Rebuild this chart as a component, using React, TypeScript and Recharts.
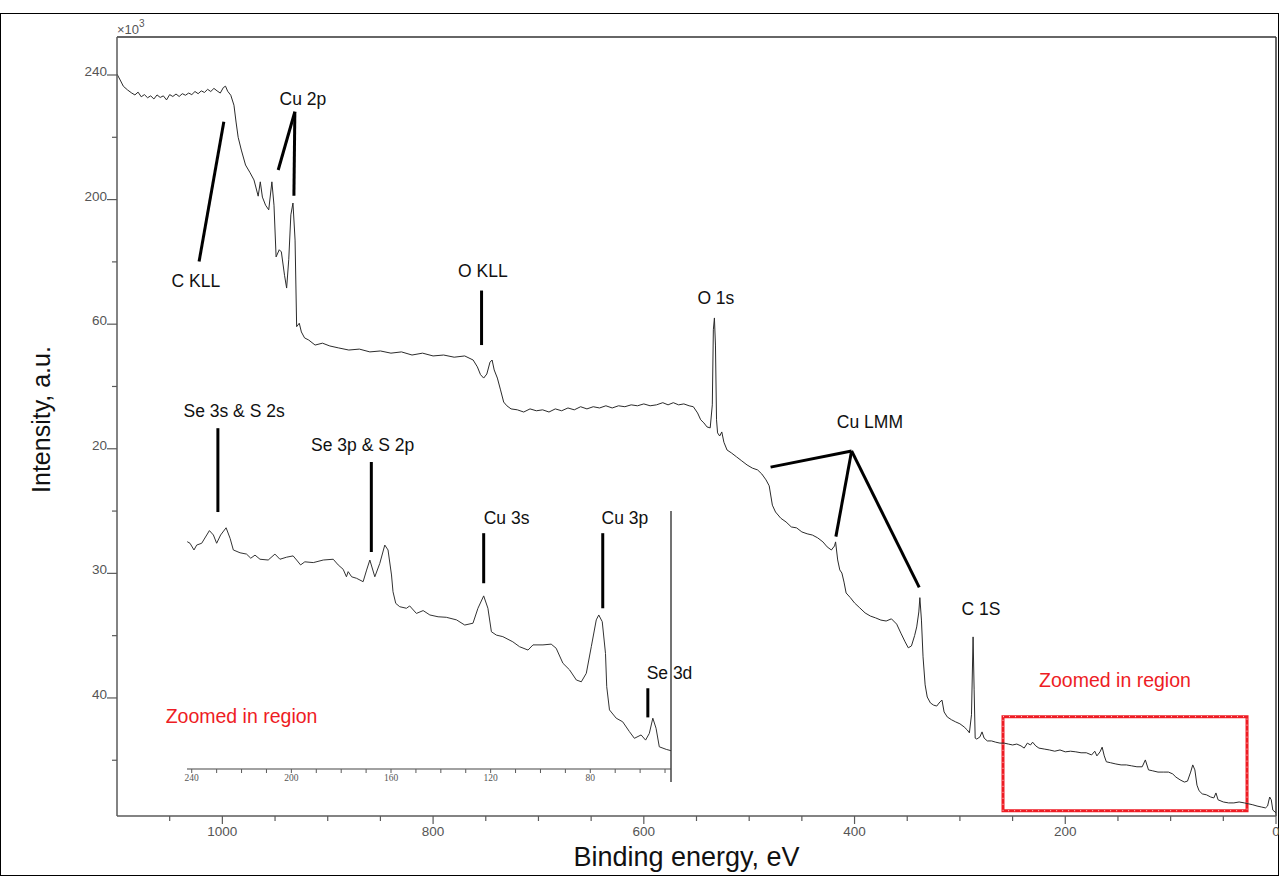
import React from 'react';
import {
  LineChart, Line, XAxis, YAxis, ReferenceLine, ReferenceDot, ReferenceArea, Label,
} from 'recharts';

// XPS survey: [binding energy (eV), intensity (x10^3 counts)]
const surveySpectrum: [number, number][] = [
  [1100, 240.3], [1097, 238.4], [1094, 236.4], [1090, 235.2], [1086, 234.2], [1083, 233.6],
  [1080, 234.5], [1077, 233.0], [1074, 233.7], [1071, 232.7], [1068, 233.3], [1065, 232.3],
  [1062, 233.6], [1059, 232.8], [1056, 233.3], [1053, 232.0], [1050, 233.7], [1047, 233.1],
  [1044, 233.9], [1041, 233.1], [1038, 234.0], [1035, 233.5], [1032, 234.2], [1029, 233.7],
  [1026, 234.7], [1023, 234.0], [1020, 234.9], [1017, 234.4], [1014, 235.4], [1011, 234.7],
  [1008, 235.7], [1005, 234.9], [1002, 234.2], [999, 236.0], [997, 236.4], [995, 234.8],
  [992, 233.5], [989, 230.3], [987, 224.9], [985, 220.0], [982, 215.9], [978, 211.1],
  [974, 208.8], [970, 206.3], [966, 201.1], [964, 205.7], [962, 200.8], [959, 198.2],
  [956, 196.7], [953, 205.7], [951, 198.2], [949, 181.6], [946, 183.9], [944, 183.2],
  [941, 175.7], [939, 171.6], [937, 180.7], [935, 195.1], [933, 198.9], [931, 187.0],
  [929.5, 159.2], [927, 160.3], [925, 157.5], [922, 155.6], [918, 154.9], [912, 153.3],
  [905, 153.9], [898, 153.0], [890, 152.4], [880, 151.7], [870, 152.0], [860, 151.1],
  [850, 151.4], [840, 150.7], [830, 151.1], [820, 150.1], [810, 150.7], [800, 149.8],
  [790, 150.1], [780, 149.4], [770, 149.8], [762, 148.5], [758, 146.3], [755, 143.8],
  [752, 142.7], [749, 144.0], [746, 147.8], [744, 148.5], [742, 145.3], [739, 142.7],
  [736, 138.9], [733, 135.0], [730, 133.8], [726, 132.8], [720, 132.5], [714, 131.8],
  [708, 132.8], [702, 132.2], [696, 132.5], [690, 131.8], [684, 132.8], [678, 132.2],
  [672, 133.1], [666, 132.5], [660, 133.5], [654, 132.8], [648, 133.5], [642, 133.1],
  [636, 133.8], [630, 133.1], [624, 133.8], [618, 133.5], [612, 134.1], [606, 133.8],
  [600, 134.4], [594, 133.8], [588, 134.1], [582, 134.8], [577, 134.1], [572, 134.8],
  [567, 134.1], [562, 134.4], [557, 133.8], [553, 133.5], [549, 131.5], [546, 129.3],
  [543, 128.3], [540, 127.0], [537, 126.7], [535, 134.1], [534, 158.2], [533, 162.0],
  [532, 153.3], [531, 129.3], [530, 125.1], [528, 124.1], [526, 125.4], [524, 122.1],
  [521, 119.6], [517, 118.7], [512, 117.4], [507, 116.1], [502, 114.8], [497, 113.8],
  [492, 113.2], [488, 111.9], [484, 110.0], [481, 108.1], [478, 101.9], [475, 99.7],
  [470, 97.7], [465, 96.5], [460, 94.9], [455, 94.6], [450, 93.3], [445, 92.7],
  [440, 92.3], [435, 91.4], [430, 90.1], [426, 88.5], [422, 87.5], [419, 88.8],
  [418, 90.1], [416, 84.3], [414, 81.1], [412, 80.1], [410, 77.2], [408, 73.7],
  [404, 72.2], [400, 70.5], [395, 68.9], [390, 67.3], [385, 66.3], [380, 65.7],
  [375, 65.0], [370, 64.7], [365, 65.4], [360, 63.7], [356, 60.8], [352, 58.0],
  [349, 56.1], [346, 56.7], [343, 60.0], [341, 62.8], [339, 67.6], [338, 72.2],
  [336.5, 65.0], [335, 53.2], [333, 44.2], [331, 40.3], [328, 38.4], [325, 37.7],
  [322, 37.4], [319, 38.7], [317, 39.3], [315, 35.5], [312, 33.9], [308, 33.0],
  [304, 32.3], [300, 31.7], [296, 30.7], [293, 29.7], [291, 28.8], [289, 34.6],
  [287.5, 59.6], [286.5, 42.6], [285.5, 27.1], [284, 26.8], [281, 27.5], [279, 29.1],
  [277, 27.1], [274, 26.2], [270, 26.2], [266, 25.8], [262, 25.5], [258, 25.5],
  [254, 25.2], [250, 24.9], [246, 25.2], [242, 24.6], [239, 23.9], [236, 25.5],
  [233, 24.9], [231, 25.8], [228, 24.6], [225, 23.9], [220, 23.6], [215, 23.3],
  [210, 22.9], [205, 23.3], [200, 22.7], [195, 22.9], [190, 22.7], [185, 22.4],
  [180, 22.4], [175, 21.7], [172, 22.9], [170, 21.4], [167, 22.7], [165, 24.2],
  [163, 21.4], [161, 19.5], [157, 19.2], [152, 18.8], [147, 18.5], [142, 18.5],
  [137, 18.2], [132, 17.9], [127, 17.9], [124, 20.1], [121, 16.9], [117, 16.6],
  [112, 16.2], [107, 16.2], [102, 16.2], [98, 15.6], [95, 14.6], [91, 13.7],
  [87, 13.0], [84, 13.3], [81, 16.2], [79, 18.5], [77, 16.9], [75, 12.0],
  [73, 10.2], [70, 9.2], [66, 8.9], [62, 8.2], [59, 7.9], [57, 9.5],
  [55, 7.3], [50, 6.6], [45, 6.3], [40, 6.3], [35, 6.6], [30, 6.3],
  [26, 6.0], [22, 5.7], [18, 5.3], [14, 5.0], [10, 4.7], [8, 5.3],
  [6, 8.2], [4.5, 7.3], [3, 4.0], [0, 3.1],
];

// expanded window 240-48 eV, arbitrary intensity units
const insetSpectrum: [number, number][] = [
  [241.8, 88.1], [240.7, 87.5], [239.1, 84.9], [238, 86.8], [236, 87.5], [232.9, 92.4],
  [231.3, 90.7], [230, 87.5], [228.4, 90.7], [226.2, 93.5], [224.6, 89.4], [223.3, 84.9],
  [220.6, 83.8], [218, 83.3], [216.3, 81.7], [214.6, 82.9], [212.6, 81.3], [209.3, 81],
  [206.6, 83.3], [204.6, 81.3], [201.9, 82.1], [199.3, 82.6], [197.9, 81], [196.3, 79.1],
  [194.6, 80.3], [191.2, 80], [187.2, 81], [183.2, 81.3], [181.2, 79.1], [179.2, 77.4],
  [177.9, 74.5], [177.2, 76.5], [175.8, 74.5], [173.8, 73.9], [171.2, 72.6], [169.8, 77.1],
  [168.5, 81], [166.5, 74.5], [164.5, 79.7], [162.5, 86.8], [161.2, 84.9], [159.8, 75.2],
  [159.2, 68.7], [158.1, 64.2], [156.5, 62.9], [153.8, 62.3], [152.5, 63.2], [149.8, 60.3],
  [147.1, 61.4], [144.4, 59.7], [141.1, 59], [137.8, 58.8], [133.7, 57.8], [130.4, 55.8],
  [127.1, 56.5], [125.1, 62.3], [122.8, 67.1], [121.1, 62.3], [119.7, 53.2], [117.7, 51.9],
  [115.1, 51.3], [111.1, 49.3], [108.4, 47.4], [105, 46.1], [103, 48.1], [99, 48.1],
  [95.7, 48.4], [93.7, 46.8], [91, 41], [88.3, 38.4], [85.6, 34.5], [83.6, 33.8],
  [81.6, 37.1], [79.6, 47.4], [77.6, 57.8], [76.6, 59.7], [75.2, 57.1], [73.9, 44.8],
  [73.4, 31.9], [72.3, 22.9], [69.6, 19.7], [67, 18.3], [64.3, 14.5], [62.3, 11.9],
  [59.6, 13.2], [57.8, 11.2], [56.3, 13.8], [54.9, 19.7], [53.6, 15.8], [52.3, 8.6],
  [49.5, 7.6], [47.6, 7.1],
];

const energyDomain: [number, number] = [0, 1100];
const countDomain: [number, number] = [2.1, 252.2];
const energyTicks = [1050, 1000, 950, 900, 850, 800, 750, 700, 650, 600, 550, 500, 450, 400, 350, 300, 250, 200, 150, 100, 50, 0];
const energyLabelled = [1000, 800, 600, 400, 200, 0];
const countTicks = [20, 40, 60, 80, 100, 120, 140, 160, 180, 200, 220, 240];
const countLabelled = [40, 80, 120, 160, 200, 240];
const countTickText = ['40', '30', '20', '60', '200', '240'];

const insetDomain: [number, number] = [47.6, 241.9];
const insetCountDomain: [number, number] = [0, 100];
const insetTicks = [240, 230, 220, 210, 200, 190, 180, 170, 160, 150, 140, 130, 120, 110, 100, 90, 80, 70, 60, 50];
const insetLabelled = [240, 200, 160, 120, 80];

// peak names placed at [energy, intensity]
const surveyPeakNames: { text: string; at: [number, number] }[] = [
  { text: 'C KLL', at: [1025.2, 173.9] },
  { text: 'Cu 2p', at: [923.6, 232.3] },
  { text: 'O KLL', at: [752.7, 177.1] },
  { text: 'O 1s', at: [531.6, 168.4] },
  { text: 'Cu LMM', at: [385.4, 128.6] },
  { text: 'C 1S', at: [280, 68.6] },
];
// leader lines: [[e1, i1], [e2, i2]]
const surveyLeaders: [number, number][][] = [
  [[1022.1, 180.1], [998.6, 225.0]],
  [[931.2, 228.2], [947.0, 209.5]],
  [[931.2, 228.2], [932.1, 201.2]],
  [[754, 170.8], [754, 153.3]],
  [[402.8, 119.3], [479.7, 114.1]],
  [[402.8, 119.3], [417.7, 91.8]],
  [[402.8, 119.3], [338.6, 75.5]],
];
const zoomBox = { e: [259.1, 27.5], i: [3.8, 34.0] };
const zoomNoteSurvey: [number, number] = [152.8, 45.8];

const insetPeakNames: { text: string; at: [number, number] }[] = [
  { text: 'Se 3s & S 2s', at: [223.0, 138.8] },
  { text: 'Se 3p & S 2p', at: [171.4, 125.7] },
  { text: 'Cu 3s', at: [113.6, 97.2] },
  { text: 'Cu 3p', at: [66.1, 97.2] },
  { text: 'Se 3d', at: [48.2, 37.1] },
];
const insetLeaders: [number, number][][] = [
  [[229.5, 132.1], [229.5, 99.6]],
  [[167.9, 119.0], [167.9, 84.1]],
  [[122.8, 91.4], [122.8, 72.0]],
  [[75.0, 91.4], [75.0, 62.3]],
  [[56.9, 31.3], [56.9, 20.0]],
];
const zoomNoteInset: [number, number] = [220, 20.5];

const SANS = '"Liberation Sans", Arial, sans-serif';
const RED = '#ee1c24';
const AXIS = '#5a5a5a';

const textShape = (text: string, size = 18, color = '#111', family = SANS) =>
  (p: any) => (
    <text x={p.cx} y={p.cy} textAnchor="middle" dominantBaseline="central"
      fontSize={size} fill={color} fontFamily={family}>{text}</text>
  );

const EnergyTick = ({ x, y, payload }: any) => {
  const major = energyLabelled.includes(payload.value);
  return (
    <g>
      <line x1={x} y1={y} x2={x} y2={y + (major ? 8 : 5)} stroke={AXIS} strokeWidth={1.2} />
      {major && (
        <text x={x} y={y + 20} textAnchor="middle" fontSize={13.5} fill="#555" fontFamily={SANS}>
          {payload.value}
        </text>
      )}
    </g>
  );
};

const CountTick = ({ x, y, payload }: any) => {
  const idx = countLabelled.indexOf(payload.value);
  const major = idx >= 0;
  return (
    <g>
      <line x1={x - (major ? 10 : 5)} y1={y} x2={x} y2={y} stroke={AXIS} strokeWidth={1.2} />
      {major && (
        <text x={x - 10} y={y + 1} textAnchor="end" fontSize={13.5} fill="#555" fontFamily={SANS}>
          {countTickText[idx]}
        </text>
      )}
    </g>
  );
};

const InsetTick = ({ x, y, payload }: any) => {
  const major = insetLabelled.includes(payload.value);
  return (
    <g>
      <line x1={x} y1={y} x2={x} y2={y + 4} stroke={AXIS} strokeWidth={1} />
      {major && (
        <text x={x} y={y + 12} textAnchor="middle" fontSize={9.5} fill="#555"
          fontFamily='"Liberation Serif", serif'>
          {payload.value}
        </text>
      )}
    </g>
  );
};

export default function App() {
  const survey = surveySpectrum.map(([e, v]) => ({ e, v }));
  const inset = insetSpectrum.map(([e, v]) => ({ e, v }));

  return (
    <div style={{ position: 'absolute', left: 0, top: 0, width: 1279, height: 876, background: '#fff' }}>
      <div style={{ position: 'absolute', left: 0, top: 13, width: 1277, height: 861, border: '1px solid #000' }} />

      {/* survey spectrum */}
      <div style={{ position: 'absolute', left: 0, top: 0 }}>
        <LineChart width={1279} height={876} data={survey}
          margin={{ top: 37, right: 3, bottom: 30, left: 57 }}>
          <XAxis dataKey="e" type="number" domain={energyDomain} reversed allowDataOverflow
            ticks={energyTicks} interval={0} tickSize={0} tickMargin={0} height={30}
            tick={<EnergyTick />} axisLine={{ stroke: AXIS, strokeWidth: 1.5 }} tickLine={false}>
            <Label content={({ viewBox }: any) => (
              <text x={viewBox.x + viewBox.width / 2 - 10} y={viewBox.y + 50} textAnchor="middle"
                fontSize={27} fill="#111" fontFamily={SANS}>Binding energy, eV</text>
            )} />
          </XAxis>
          <YAxis type="number" domain={countDomain} allowDataOverflow width={60}
            ticks={countTicks} interval={0} tickSize={0} tickMargin={0}
            tick={<CountTick />} axisLine={{ stroke: AXIS, strokeWidth: 1.5 }} tickLine={false}>
            <Label content={({ viewBox }: any) => (
              <g>
                <text transform={`translate(${viewBox.x - 16}, ${viewBox.y + viewBox.height / 2 - 7}) rotate(-90)`}
                  textAnchor="middle" dominantBaseline="central" fontSize={25} fill="#111"
                  fontFamily={SANS}>Intensity, a.u.</text>
                <text x={viewBox.x + viewBox.width} y={viewBox.y - 3} fontSize={13} fill="#555"
                  fontFamily={SANS}>×10<tspan dy={-7} fontSize={10}>3</tspan></text>
              </g>
            )} />
          </YAxis>
          <ReferenceLine y={countDomain[1]} stroke="#333" strokeWidth={1.5} ifOverflow="visible" />
          <ReferenceLine x={energyDomain[0]} stroke="#333" strokeWidth={1.5} ifOverflow="visible" />
          <Line dataKey="v" type="linear" stroke="#2b2b2b" strokeWidth={1} dot={false}
            isAnimationActive={false} />
          {surveyLeaders.map((seg, i) => (
            <ReferenceLine key={`sl${i}`} ifOverflow="visible" stroke="#000" strokeWidth={3}
              segment={[{ x: seg[0][0], y: seg[0][1] }, { x: seg[1][0], y: seg[1][1] }]} />
          ))}
          {surveyPeakNames.map((p) => (
            <ReferenceDot key={p.text} x={p.at[0]} y={p.at[1]} ifOverflow="visible"
              shape={textShape(p.text, 17.5)} />
          ))}
          <ReferenceArea x1={zoomBox.e[0]} x2={zoomBox.e[1]} y1={zoomBox.i[0]} y2={zoomBox.i[1]}
            ifOverflow="visible" fill="none" stroke={RED} strokeWidth={3} />
          <ReferenceArea x1={zoomBox.e[0]} x2={zoomBox.e[1]} y1={zoomBox.i[0]} y2={zoomBox.i[1]}
            ifOverflow="visible" fill="none" stroke="#ffd6d6" strokeWidth={1} strokeDasharray="1 5" />
          <ReferenceDot x={zoomNoteSurvey[0]} y={zoomNoteSurvey[1]} ifOverflow="visible"
            shape={textShape('Zoomed in region', 19.5, RED)} />
        </LineChart>
      </div>

      {/* expanded window */}
      <div style={{ position: 'absolute', left: 0, top: 0 }}>
        <LineChart width={1279} height={876} data={inset}
          margin={{ top: 511, right: 608, bottom: 87, left: 187 }}>
          <XAxis dataKey="e" type="number" domain={insetDomain} reversed allowDataOverflow
            ticks={insetTicks} interval={0} tickSize={0} tickMargin={0} height={20}
            tick={<InsetTick />} axisLine={{ stroke: '#444', strokeWidth: 1.2 }} tickLine={false} />
          <YAxis type="number" domain={insetCountDomain} allowDataOverflow hide />
          <ReferenceLine ifOverflow="visible" stroke="#444" strokeWidth={1.5}
            segment={[{ x: insetDomain[0], y: insetCountDomain[1] }, { x: insetDomain[0], y: -5 }]} />
          <Line dataKey="v" type="linear" stroke="#333" strokeWidth={1} dot={false}
            isAnimationActive={false} />
          {insetLeaders.map((seg, i) => (
            <ReferenceLine key={`il${i}`} ifOverflow="visible" stroke="#000" strokeWidth={3}
              segment={[{ x: seg[0][0], y: seg[0][1] }, { x: seg[1][0], y: seg[1][1] }]} />
          ))}
          {insetPeakNames.map((p) => (
            <ReferenceDot key={p.text} x={p.at[0]} y={p.at[1]} ifOverflow="visible"
              shape={textShape(p.text, 17.5)} />
          ))}
          <ReferenceDot x={zoomNoteInset[0]} y={zoomNoteInset[1]} ifOverflow="visible"
            shape={textShape('Zoomed in region', 19.5, RED)} />
        </LineChart>
      </div>
    </div>
  );
}
